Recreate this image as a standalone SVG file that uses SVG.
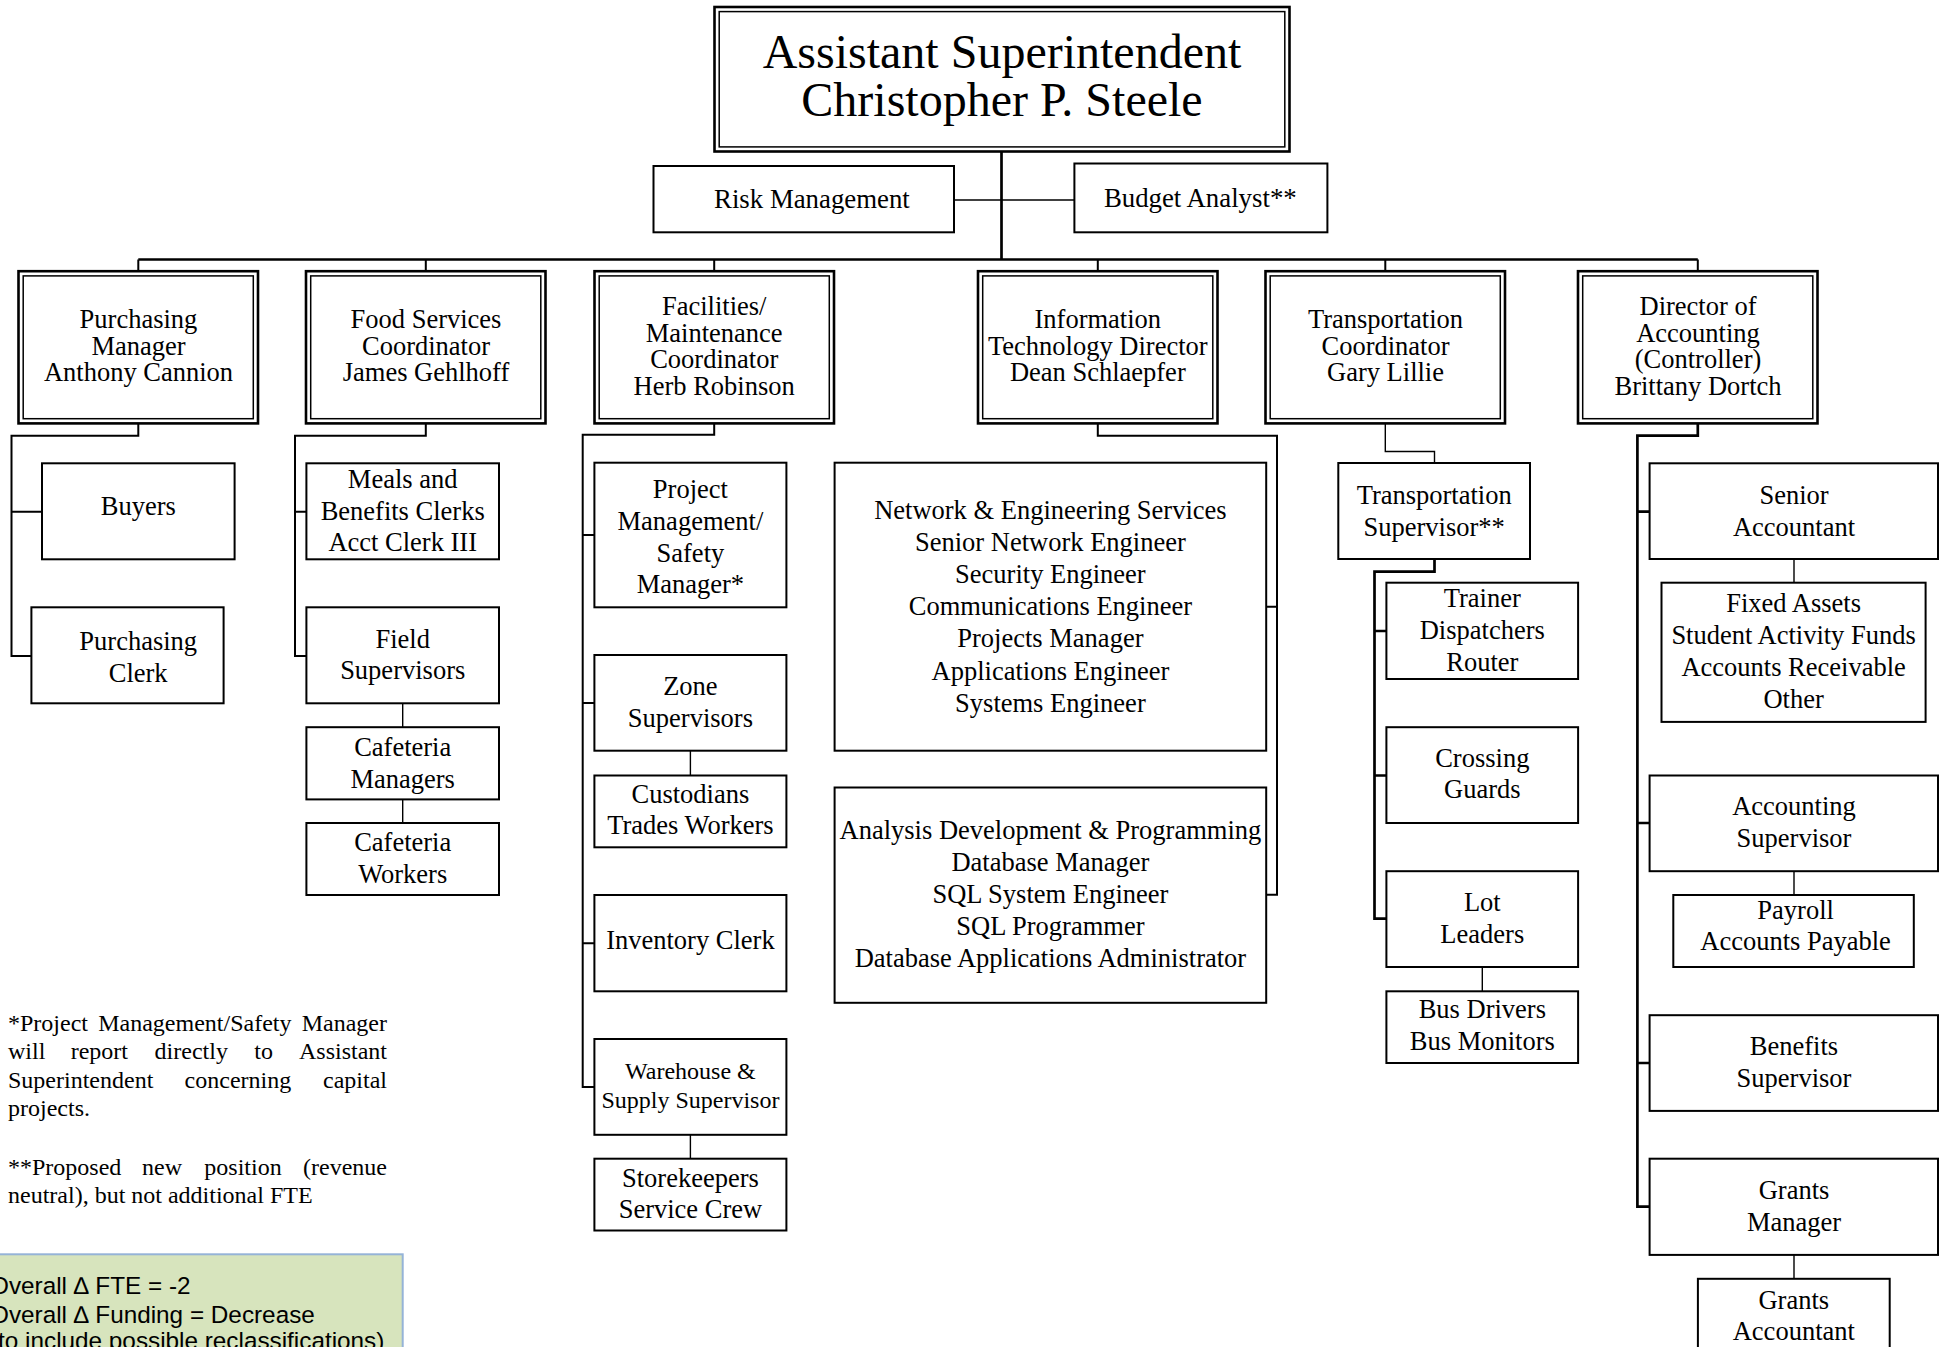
<svg xmlns="http://www.w3.org/2000/svg" width="1948" height="1347" viewBox="0 0 1948 1347">
<style>
.bg{fill:#fff}
.box{fill:#fff;stroke:#000;stroke-width:2}
.outer{fill:#fff;stroke:#000;stroke-width:2.6}
.inner{fill:none;stroke:#000;stroke-width:1.5}
.t{font-family:"Liberation Serif","Times New Roman",serif;font-size:26.5px;text-anchor:middle;fill:#000}
.big{font-size:48px}
.mid{font-size:26.8px}
.sm{font-size:24px}
.fn{font-family:"Liberation Serif","Times New Roman",serif;font-size:24px;fill:#000}
.end{text-anchor:end}
.conn{fill:none;stroke:#000;stroke-width:2}
.thin{stroke-width:1.4}
.thick{stroke-width:2.7}
.note{fill:#d7e4bd;stroke:#95b3d7;stroke-width:2}
.nt{font-family:"Liberation Sans",Arial,sans-serif;font-size:24.3px;fill:#000}
</style>
<rect class="bg" x="0" y="0" width="1948" height="1347"/>

<g id="connectors">
  <path class="conn thick" d="M1001.5 151.5V259.5"/>
  <path class="conn thin" d="M954 200H1074.4"/>
  <path class="conn thick" d="M138.3 259.5H1697.8"/>
  <path class="conn" d="M138.3 259.5V271.2M425.8 259.5V271.2M714.2 259.5V271.2M1097.8 259.5V271.2M1385.3 259.5V271.2M1697.8 259.5V271.2"/>
  <path class="conn" d="M138.3 423.4V435.7H11.5V656H31.4M11.5 511.7H42"/>
  <path class="conn" d="M425.8 423.4V435.7H295V656H306.4M295 511.7H306.4"/>
  <path class="conn thin" d="M402.7 703.3V727.2M402.7 799.4V823"/>
  <path class="conn" d="M714.2 423.4V434.7H582.7V1087H594.4M582.7 535H594.4M582.7 703H594.4M582.7 943.2H594.4"/>
  <path class="conn thin" d="M690.4 750.7V775.5M690.4 1134.8V1158.7"/>
  <path class="conn" d="M1097.8 423.4V435.7H1277V894.7H1266.2M1277 606.7H1266.2"/>
  <path class="conn thin" d="M1385.3 423.4V451.5H1434.5V463"/>
  <path class="conn thick" d="M1434.5 559V571.7H1374.5V918.6H1386.4M1374.5 631H1386.4M1374.5 775.5H1386.4"/>
  <path class="conn thin" d="M1482.3 967V991.3"/>
  <path class="conn thick" d="M1697.8 423.4V435.7H1637.4V1206.6H1649.6M1637.4 511.7H1649.6M1637.4 823H1649.6M1637.4 1063H1649.6"/>
  <path class="conn thin" d="M1794 559V582.7M1794 871.2V895M1794 1254.9V1278.8"/>
</g>

<g id="n-asst-supt">
  <rect class="outer" x="714.5" y="7" width="575" height="144.5"/>
  <rect class="inner" x="719.2" y="11.6" width="565.6" height="135.3"/>
  <text class="t big" x="1002" y="67.5">Assistant Superintendent</text>
  <text class="t big" x="1002" y="116">Christopher P. Steele</text>
</g>

<g id="n-risk">
  <rect class="box" x="653.5" y="166" width="300.5" height="66.3"/>
  <text class="t mid" x="811.9" y="208.3">Risk Management</text>
</g>
<g id="n-budget">
  <rect class="box" x="1074.4" y="163.5" width="253" height="68.8"/>
  <text class="t mid" x="1200.3" y="207">Budget Analyst**</text>
</g>

<g id="n-purchasing-mgr">
  <rect class="outer" x="18.5" y="271.2" width="239.5" height="152.2"/>
  <rect class="inner" x="23.2" y="275.9" width="230.1" height="142.8"/>
  <text class="t" x="138.5" y="328">Purchasing</text>
  <text class="t" x="138.5" y="354.5">Manager</text>
  <text class="t" x="138.5" y="381">Anthony Cannion</text>
</g>
<g id="n-food-coord">
  <rect class="outer" x="306" y="271.2" width="239.5" height="152.2"/>
  <rect class="inner" x="310.7" y="275.9" width="230.1" height="142.8"/>
  <text class="t" x="426" y="328">Food Services</text>
  <text class="t" x="426" y="354.5">Coordinator</text>
  <text class="t" x="426" y="381">James Gehlhoff</text>
</g>
<g id="n-facilities-coord">
  <rect class="outer" x="594.5" y="271.2" width="239.5" height="152.2"/>
  <rect class="inner" x="599.2" y="275.9" width="230.1" height="142.8"/>
  <text class="t" x="714.2" y="315">Facilities/</text>
  <text class="t" x="714.2" y="341.5">Maintenance</text>
  <text class="t" x="714.2" y="368">Coordinator</text>
  <text class="t" x="714.2" y="394.5">Herb Robinson</text>
</g>
<g id="n-it-director">
  <rect class="outer" x="978" y="271.2" width="239.5" height="152.2"/>
  <rect class="inner" x="982.7" y="275.9" width="230.1" height="142.8"/>
  <text class="t" x="1097.8" y="328">Information</text>
  <text class="t" x="1097.8" y="354.5">Technology Director</text>
  <text class="t" x="1097.8" y="381">Dean Schlaepfer</text>
</g>
<g id="n-transport-coord">
  <rect class="outer" x="1265.5" y="271.2" width="239.5" height="152.2"/>
  <rect class="inner" x="1270.2" y="275.9" width="230.1" height="142.8"/>
  <text class="t" x="1385.5" y="328">Transportation</text>
  <text class="t" x="1385.5" y="354.5">Coordinator</text>
  <text class="t" x="1385.5" y="381">Gary Lillie</text>
</g>
<g id="n-director-accounting">
  <rect class="outer" x="1578" y="271.2" width="239.5" height="152.2"/>
  <rect class="inner" x="1582.7" y="275.9" width="230.1" height="142.8"/>
  <text class="t" x="1698" y="315">Director of</text>
  <text class="t" x="1698" y="341.5">Accounting</text>
  <text class="t" x="1698" y="368">(Controller)</text>
  <text class="t" x="1698" y="394.5">Brittany Dortch</text>
</g>

<g id="n-buyers">
  <rect class="box" x="42" y="463.3" width="192.6" height="96"/>
  <text class="t" x="138.3" y="515">Buyers</text>
</g>
<g id="n-purchasing-clerk">
  <rect class="box" x="31.4" y="607.3" width="192.2" height="96"/>
  <text class="t" x="138.2" y="650">Purchasing</text>
  <text class="t" x="138.2" y="681.7">Clerk</text>
</g>

<g id="n-meals-clerks">
  <rect class="box" x="306.4" y="463.3" width="192.6" height="96"/>
  <text class="t" x="402.7" y="487.7">Meals and</text>
  <text class="t" x="402.7" y="519.5">Benefits Clerks</text>
  <text class="t" x="402.7" y="551">Acct Clerk III</text>
</g>
<g id="n-field-supervisors">
  <rect class="box" x="306.4" y="607.3" width="192.6" height="96"/>
  <text class="t" x="402.7" y="647.7">Field</text>
  <text class="t" x="402.7" y="679.3">Supervisors</text>
</g>
<g id="n-cafeteria-managers">
  <rect class="box" x="306.4" y="727.2" width="192.6" height="72.2"/>
  <text class="t" x="402.7" y="755.7">Cafeteria</text>
  <text class="t" x="402.7" y="787.5">Managers</text>
</g>
<g id="n-cafeteria-workers">
  <rect class="box" x="306.4" y="823" width="192.6" height="72"/>
  <text class="t" x="402.7" y="851.4">Cafeteria</text>
  <text class="t" x="402.7" y="882.8">Workers</text>
</g>

<g id="n-project-mgmt">
  <rect class="box" x="594.4" y="462.7" width="192" height="144.6"/>
  <text class="t" x="690.4" y="498.3">Project</text>
  <text class="t" x="690.4" y="530">Management/</text>
  <text class="t" x="690.4" y="561.7">Safety</text>
  <text class="t" x="690.4" y="593.3">Manager*</text>
</g>
<g id="n-zone-supervisors">
  <rect class="box" x="594.4" y="655" width="192" height="95.7"/>
  <text class="t" x="690.4" y="695">Zone</text>
  <text class="t" x="690.4" y="726.8">Supervisors</text>
</g>
<g id="n-custodians">
  <rect class="box" x="594.4" y="775.5" width="192" height="71.8"/>
  <text class="t" x="690.4" y="803">Custodians</text>
  <text class="t" x="690.4" y="834">Trades Workers</text>
</g>
<g id="n-inventory-clerk">
  <rect class="box" x="594.4" y="895" width="192" height="96.3"/>
  <text class="t" x="690.4" y="948.8">Inventory Clerk</text>
</g>
<g id="n-warehouse">
  <rect class="box" x="594.4" y="1039" width="192" height="95.8"/>
  <text class="t sm" x="690.4" y="1078.7">Warehouse &amp;</text>
  <text class="t sm" x="690.4" y="1107.6">Supply Supervisor</text>
</g>
<g id="n-storekeepers">
  <rect class="box" x="594.4" y="1158.7" width="192" height="71.8"/>
  <text class="t" x="690.4" y="1186.8">Storekeepers</text>
  <text class="t" x="690.4" y="1217.7">Service Crew</text>
</g>

<g id="n-network">
  <rect class="box" x="834.6" y="462.7" width="431.6" height="288"/>
  <text class="t" x="1050.4" y="518.5">Network &amp; Engineering Services</text>
  <text class="t" x="1050.4" y="550.7">Senior Network Engineer</text>
  <text class="t" x="1050.4" y="582.9">Security Engineer</text>
  <text class="t" x="1050.4" y="615.1">Communications Engineer</text>
  <text class="t" x="1050.4" y="647.3">Projects Manager</text>
  <text class="t" x="1050.4" y="679.5">Applications Engineer</text>
  <text class="t" x="1050.4" y="711.7">Systems Engineer</text>
</g>
<g id="n-adp">
  <rect class="box" x="834.6" y="787.5" width="431.6" height="215.3"/>
  <text class="t" x="1050.4" y="838.5">Analysis Development &amp; Programming</text>
  <text class="t" x="1050.4" y="870.6">Database Manager</text>
  <text class="t" x="1050.4" y="902.7">SQL System Engineer</text>
  <text class="t" x="1050.4" y="934.8">SQL Programmer</text>
  <text class="t" x="1050.4" y="966.9">Database Applications Administrator</text>
</g>

<g id="n-transport-supervisor">
  <rect class="box" x="1338.3" y="463" width="191.7" height="96"/>
  <text class="t" x="1434.2" y="503.8">Transportation</text>
  <text class="t" x="1434.2" y="535.5">Supervisor**</text>
</g>
<g id="n-trainer">
  <rect class="box" x="1386.4" y="582.7" width="191.7" height="96.3"/>
  <text class="t" x="1482.3" y="607.3">Trainer</text>
  <text class="t" x="1482.3" y="639">Dispatchers</text>
  <text class="t" x="1482.3" y="671">Router</text>
</g>
<g id="n-crossing-guards">
  <rect class="box" x="1386.4" y="727.2" width="191.7" height="95.8"/>
  <text class="t" x="1482.3" y="766.5">Crossing</text>
  <text class="t" x="1482.3" y="798.3">Guards</text>
</g>
<g id="n-lot-leaders">
  <rect class="box" x="1386.4" y="871.2" width="191.7" height="95.8"/>
  <text class="t" x="1482.3" y="911">Lot</text>
  <text class="t" x="1482.3" y="943">Leaders</text>
</g>
<g id="n-bus">
  <rect class="box" x="1386.4" y="991.3" width="191.7" height="71.7"/>
  <text class="t" x="1482.3" y="1018.3">Bus Drivers</text>
  <text class="t" x="1482.3" y="1050.3">Bus Monitors</text>
</g>

<g id="n-senior-accountant">
  <rect class="box" x="1649.6" y="463.3" width="288.4" height="95.7"/>
  <text class="t" x="1794" y="503.8">Senior</text>
  <text class="t" x="1794" y="535.5">Accountant</text>
</g>
<g id="n-fixed-assets">
  <rect class="box" x="1661.5" y="582.7" width="264.1" height="139.2"/>
  <text class="t" x="1793.6" y="612">Fixed Assets</text>
  <text class="t" x="1793.6" y="644">Student Activity Funds</text>
  <text class="t" x="1793.6" y="676">Accounts Receivable</text>
  <text class="t" x="1793.6" y="708.2">Other</text>
</g>
<g id="n-accounting-supervisor">
  <rect class="box" x="1649.6" y="775.5" width="288.4" height="95.7"/>
  <text class="t" x="1794" y="815">Accounting</text>
  <text class="t" x="1794" y="846.5">Supervisor</text>
</g>
<g id="n-payroll">
  <rect class="box" x="1673.3" y="895" width="240.5" height="72"/>
  <text class="t" x="1795.6" y="919">Payroll</text>
  <text class="t" x="1795.6" y="950">Accounts Payable</text>
</g>
<g id="n-benefits-supervisor">
  <rect class="box" x="1649.6" y="1015.2" width="288.4" height="95.7"/>
  <text class="t" x="1794" y="1055">Benefits</text>
  <text class="t" x="1794" y="1086.7">Supervisor</text>
</g>
<g id="n-grants-manager">
  <rect class="box" x="1649.6" y="1158.7" width="288.4" height="96.2"/>
  <text class="t" x="1794" y="1199.3">Grants</text>
  <text class="t" x="1794" y="1230.5">Manager</text>
</g>
<g id="n-grants-accountant">
  <rect class="box" x="1697.9" y="1278.8" width="191.8" height="100"/>
  <text class="t" x="1793.8" y="1308.8">Grants</text>
  <text class="t" x="1793.8" y="1339.8">Accountant</text>
</g>

<g id="footnotes">
  <text class="fn" x="8" y="1030.5">*Project</text>
  <text class="fn" x="98.2" y="1030.5">Management/Safety</text>
  <text class="fn end" x="387" y="1030.5">Manager</text>
  <text class="fn" x="8" y="1059">will</text>
  <text class="fn" x="70.7" y="1059">report</text>
  <text class="fn" x="154.6" y="1059">directly</text>
  <text class="fn" x="254.3" y="1059">to</text>
  <text class="fn end" x="387" y="1059">Assistant</text>
  <text class="fn" x="8" y="1087.5">Superintendent</text>
  <text class="fn" x="184.6" y="1087.5">concerning</text>
  <text class="fn end" x="387" y="1087.5">capital</text>
  <text class="fn" x="8" y="1116">projects.</text>
  <text class="fn" x="8" y="1174.5">**Proposed</text>
  <text class="fn" x="142" y="1174.5">new</text>
  <text class="fn" x="204.3" y="1174.5">position</text>
  <text class="fn end" x="387" y="1174.5">(revenue</text>
  <text class="fn" x="8" y="1203">neutral), but not additional FTE</text>
</g>

<g id="n-summary">
  <rect class="note" x="-3" y="1254.3" width="405.7" height="110"/>
  <text class="nt" x="-10" y="1294">Overall ∆ FTE = -2</text>
  <text class="nt" x="-10" y="1322.5">Overall ∆ Funding = Decrease</text>
  <text class="nt" x="-10" y="1349">(to include possible reclassifications)</text>
</g>
</svg>
